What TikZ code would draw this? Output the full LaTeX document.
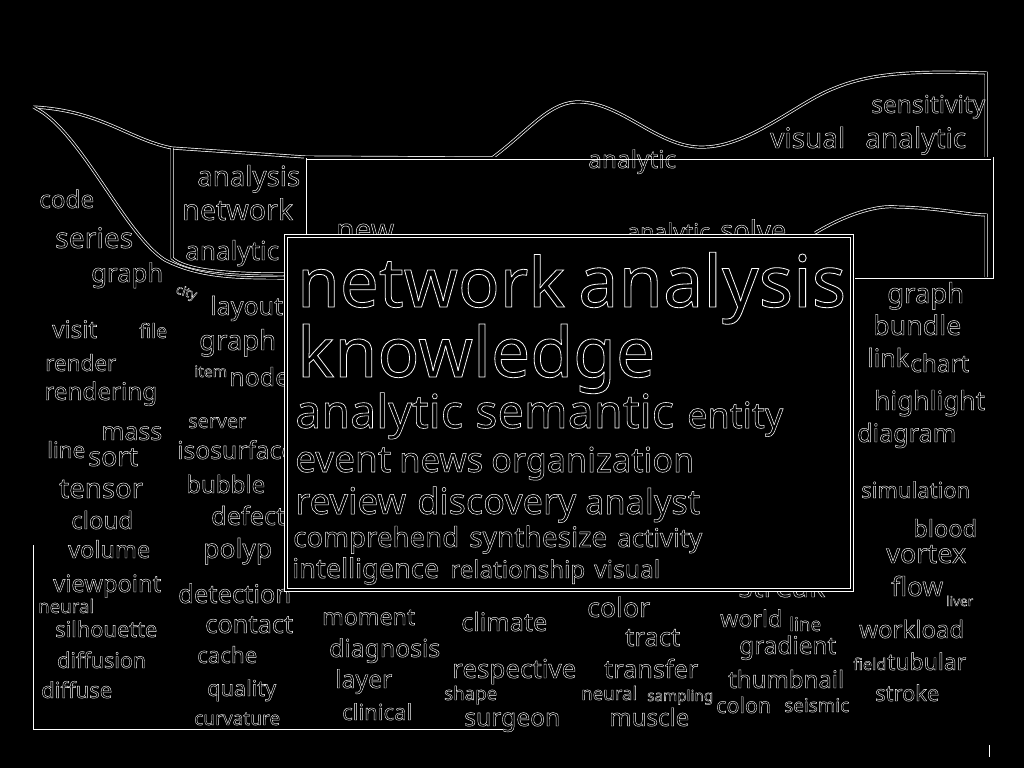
\documentclass[tikz,border=0pt]{standalone}
\usepackage{fontspec}
\setmainfont{Noto Sans}
\usepackage{tikz}

% outlined text, stretched to a given width
\newcommand\strk[2]{\special{pdf:literal direct 1 Tr #1 w}#2\special{pdf:literal direct 0 Tr}}
\newlength\termwd
\newcommand\fitterm[2]{\fontsize{10}{10}\selectfont\settowidth\termwd{#2}%
  \pgfmathsetmacro\termsz{10*#1/\termwd}\pgfmathsetmacro\strkw{0.22+0.008*\termsz}%
  \fontsize{\termsz}{\termsz}\selectfont\strk{\strkw}{#2}}

\begin{document}
\begin{tikzpicture}[x=1pt,y=-1pt,
  term/.style={anchor=base west,inner sep=0pt,text=white},
  minor/.style={term,font=\bfseries},
  band/.style={draw=white,double=black,double distance=1.6pt,line width=0.7pt},
  panel/.style={draw=white,double=black,double distance=2.4pt,line width=0.7pt,fill=black}]

  \fill[black] (0,0) rectangle (1024,768);
  \useasboundingbox (0,0) rectangle (1024,768);

  % stream layers
  \draw[band] (33,107) .. controls (100,110) and (130,140) .. (172,148) -- (305,157) -- (492,158)
    .. controls (530,130) and (550,100) .. (581,102) .. controls (625,104) and (660,150) .. (706,147)
    .. controls (750,145) and (795,105) .. (830,90) .. controls (865,75) and (900,70) .. (986,73) -- (986,158);
  \draw[band] (305,158) -- (992,158) -- (992,277) -- (855,277);
  \draw[band] (35,108) .. controls (80,130) and (125,235) .. (165,260) .. controls (200,278) and (240,278) .. (285,278);
  \draw[band] (172,148) -- (172,258) .. controls (185,270) and (225,274) .. (285,274);
  \draw[band] (305,158) -- (305,235);
  \draw[band] (815,233) .. controls (850,212) and (880,205) .. (897,207) .. controls (940,208) and (960,214) .. (986,215) -- (986,277);
  \draw[white,line width=0.8pt] (33,545) -- (33,729) -- (503,729);
  \draw[white,line width=0.8pt] (989,745) -- (989,757);

  % top band
  \node[term] (sensitivity) at (871,113) {\fitterm{114}{sensitivity}};
  \node[term] (visual1) at (770,148) {\fitterm{75}{visual}};
  \node[term] (analytic1) at (865,148) {\fitterm{101}{analytic}};
  \node[term] (analytic2) at (588,168) {\fitterm{88}{analytic}};
  \node[term] (analysis1) at (197,186) {\fitterm{103}{analysis}};
  \node[term] (network1) at (182,220) {\fitterm{111}{network}};
  \node[term] (analytic3) at (185,260) {\fitterm{94}{analytic}};
  \node[term] (code) at (39,208) {\fitterm{55}{code}};
  \node[term] (series) at (55,248) {\fitterm{78}{series}};
  \node[term] (graph1) at (91,282) {\fitterm{72}{graph}};
  \node[term] (new) at (336,240) {\fitterm{58}{new}};
  \node[term] (analytic4) at (627,240) {\fitterm{83}{analytic}};
  \node[term] (solve) at (720,240) {\fitterm{66}{solve}};

  % left side
  \node[minor,rotate=-18] (city) at (175,293) {\fitterm{21}{city}};
  \node[minor] (layout) at (210,315) {\fitterm{73}{layout}};
  \node[minor] (visit) at (52,338) {\fitterm{45}{visit}};
  \node[minor] (file) at (139,338) {\fitterm{28}{file}};
  \node[minor] (graph2) at (199,350) {\fitterm{77}{graph}};
  \node[minor] (render) at (45,371) {\fitterm{71}{render}};
  \node[minor] (item) at (194,377) {\fitterm{33}{item}};
  \node[minor] (node) at (229,386) {\fitterm{60}{node}};
  \node[minor] (rendering) at (44,400) {\fitterm{113}{rendering}};
  \node[minor] (server) at (188,428) {\fitterm{58}{server}};
  \node[minor] (mass) at (101,440) {\fitterm{61}{mass}};
  \node[minor] (line1) at (47,458) {\fitterm{38}{line}};
  \node[minor] (sort) at (88,466) {\fitterm{50}{sort}};
  \node[minor] (isosurface) at (177,459) {\fitterm{118}{isosurface}};
  \node[minor] (tensor) at (59,498) {\fitterm{84}{tensor}};
  \node[minor] (bubble) at (186,493) {\fitterm{79}{bubble}};
  \node[minor] (cloud) at (71,529) {\fitterm{62}{cloud}};
  \node[minor] (defect) at (211,525) {\fitterm{74}{defect}};
  \node[minor] (volume) at (68,558) {\fitterm{82}{volume}};
  \node[minor] (polyp) at (203,558) {\fitterm{69}{polyp}};
  \node[minor] (viewpoint) at (53,592) {\fitterm{108}{viewpoint}};
  \node[minor] (detection) at (178,603) {\fitterm{113}{detection}};
  \node[minor] (neural1) at (38,613) {\fitterm{56}{neural}};
  \node[minor] (silhouette) at (55,637) {\fitterm{102}{silhouette}};
  \node[minor] (contact) at (205,633) {\fitterm{88}{contact}};
  \node[minor] (diffusion) at (57,668) {\fitterm{89}{diffusion}};
  \node[minor] (cache) at (197,663) {\fitterm{60}{cache}};
  \node[minor] (diffuse) at (41,698) {\fitterm{71}{diffuse}};
  \node[minor] (quality) at (207,696) {\fitterm{69}{quality}};
  \node[minor] (curvature) at (194,725) {\fitterm{86}{curvature}};

  % bottom
  \node[minor] (moment) at (322,625) {\fitterm{93}{moment}};
  \node[minor] (climate) at (461,631) {\fitterm{86}{climate}};
  \node[minor] (color) at (587,617) {\fitterm{63}{color}};
  \node[minor] (diagnosis) at (329,657) {\fitterm{111}{diagnosis}};
  \node[minor] (tract) at (625,646) {\fitterm{55}{tract}};
  \node[minor] (respective) at (452,678) {\fitterm{124}{respective}};
  \node[minor] (transfer) at (604,678) {\fitterm{94}{transfer}};
  \node[minor] (layer) at (335,688) {\fitterm{57}{layer}};
  \node[minor] (shape) at (444,700) {\fitterm{53}{shape}};
  \node[minor] (neural2) at (581,700) {\fitterm{56}{neural}};
  \node[minor] (sampling) at (647,701) {\fitterm{66}{sampling}};
  \node[minor] (clinical) at (342,720) {\fitterm{70}{clinical}};
  \node[minor] (surgeon) at (464,726) {\fitterm{96}{surgeon}};
  \node[minor] (muscle) at (609,726) {\fitterm{80}{muscle}};

  % right side
  \node[minor] (streak) at (738,597) {\fitterm{87}{streak}};
  \node[minor] (world) at (720,627) {\fitterm{62}{world}};
  \node[minor] (line2) at (789,631) {\fitterm{32}{line}};
  \node[minor] (flow) at (891,596) {\fitterm{52}{flow}};
  \node[minor] (liver) at (946,606) {\fitterm{27}{liver}};
  \node[minor] (workload) at (859,638) {\fitterm{105}{workload}};
  \node[minor] (gradient) at (739,654) {\fitterm{97}{gradient}};
  \node[minor] (field) at (853,670) {\fitterm{33}{field}};
  \node[minor] (tubular) at (887,670) {\fitterm{79}{tubular}};
  \node[minor] (thumbnail) at (728,688) {\fitterm{116}{thumbnail}};
  \node[minor] (stroke) at (875,701) {\fitterm{64}{stroke}};
  \node[minor] (colon) at (716,713) {\fitterm{55}{colon}};
  \node[minor] (seismic) at (784,712) {\fitterm{65}{seismic}};
  \node[minor] (graph3) at (887,303) {\fitterm{77}{graph}};
  \node[minor] (bundle) at (873,335) {\fitterm{88}{bundle}};
  \node[minor] (link) at (867,367) {\fitterm{42}{link}};
  \node[minor] (chart) at (910,372) {\fitterm{59}{chart}};
  \node[minor] (highlight) at (874,410) {\fitterm{111}{highlight}};
  \node[minor] (diagram) at (857,442) {\fitterm{99}{diagram}};
  \node[minor] (simulation) at (861,498) {\fitterm{109}{simulation}};
  \node[minor] (blood) at (913,537) {\fitterm{64}{blood}};
  \node[minor] (vortex) at (886,563) {\fitterm{80}{vortex}};

  % focus panel
  \draw[panel] (286,236) rectangle (852,590);
  \node[term] (network2) at (297,307) {\fitterm{268}{network}};
  \node[term] (analysis2) at (578,307) {\fitterm{268}{analysis}};
  \node[term] (knowledge) at (297,377) {\fitterm{358}{knowledge}};
  \node[term] (analytic5) at (295,428) {\fitterm{168}{analytic}};
  \node[term] (semantic) at (475,428) {\fitterm{199}{semantic}};
  \node[term] (entity) at (687,428) {\fitterm{96}{entity}};
  \node[term] (event) at (295,472) {\fitterm{96}{event}};
  \node[term] (news) at (399,472) {\fitterm{84}{news}};
  \node[term] (organization) at (491,472) {\fitterm{203}{organization}};
  \node[term] (review) at (295,514) {\fitterm{111}{review}};
  \node[term] (discovery) at (417,514) {\fitterm{159}{discovery}};
  \node[term] (analyst) at (585,514) {\fitterm{115}{analyst}};
  \node[term] (comprehend) at (293,547) {\fitterm{166}{comprehend}};
  \node[term] (synthesize) at (469,547) {\fitterm{138}{synthesize}};
  \node[term] (activity) at (617,547) {\fitterm{85}{activity}};
  \node[term] (intelligence) at (292,578) {\fitterm{147}{intelligence}};
  \node[term] (relationship) at (450,578) {\fitterm{135}{relationship}};
  \node[term] (visual2) at (594,578) {\fitterm{66}{visual}};

\end{tikzpicture}
\end{document}
